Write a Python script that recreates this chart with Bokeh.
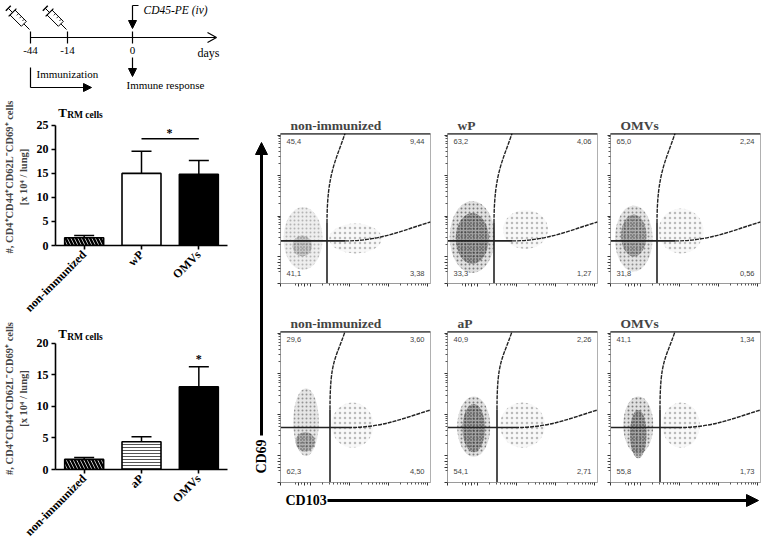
import math
import numpy as np
from bokeh.plotting import figure
from bokeh.layouts import row, column
from bokeh.models import (Range1d, FactorRange, ColumnDataSource, Whisker, TeeHead, Span,
                          FixedTicker, Arrow, NormalHead, Spacer)
from bokeh.core.properties import value
from bokeh.embed import file_html
from bokeh.resources import INLINE

SERIF = "Liberation Serif"

# ------------------------------------------------------------------ data
timeline_days = ["-44", "-14", "0"]
timeline_pos = [30, 67, 132]          # schematic (not to scale) positions

bar1_groups = ["non-immunized", "wP", "OMVs"]
bar1_values = [1.6, 15.0, 14.8]
bar1_errors = [0.5, 4.6, 2.9]

bar2_groups = ["non-immunized", "aP", "OMVs"]
bar2_values = [1.6, 4.4, 13.1]
bar2_errors = [0.3, 0.8, 3.2]

flow_titles_top = ["non-immunized", "wP", "OMVs"]
flow_titles_bottom = ["non-immunized", "aP", "OMVs"]
# quadrant percentages: upper-left, upper-right, lower-left, lower-right
flow_quadrants_top = [["45,4", "9,44", "41,1", "3,38"],
                      ["63,2", "4,06", "33,3", "1,27"],
                      ["65,0", "2,24", "31,8", "0,56"]]
flow_quadrants_bottom = [["29,6", "3,60", "62,3", "4,50"],
                         ["40,9", "2,26", "54,1", "2,71"],
                         ["41,1", "1,34", "55,8", "1,73"]]
# cell clouds (centre x, centre y, width, height) in panel fractions
cloud_main_top = [(0.15, 0.30, 0.26, 0.42), (0.165, 0.31, 0.30, 0.48), (0.155, 0.30, 0.25, 0.44)]
cloud_core_top = [(0.145, 0.25, 0.13, 0.14), (0.165, 0.30, 0.22, 0.34), (0.155, 0.32, 0.17, 0.28)]
cloud_cd103_top = [(0.50, 0.30, 0.35, 0.20), (0.52, 0.36, 0.30, 0.26), (0.47, 0.35, 0.30, 0.30)]
cloud_density_top = [0.55, 1.0, 0.85]
cloud_main_bottom = [(0.17, 0.40, 0.17, 0.45), (0.175, 0.37, 0.22, 0.40), (0.185, 0.38, 0.20, 0.38)]
cloud_core_bottom = [(0.165, 0.27, 0.13, 0.13), (0.175, 0.36, 0.15, 0.32), (0.185, 0.32, 0.11, 0.32)]
cloud_cd103_bottom = [(0.48, 0.38, 0.28, 0.30), (0.50, 0.38, 0.30, 0.30), (0.47, 0.38, 0.25, 0.30)]
cloud_density_bottom = [0.8, 1.0, 1.0]
# gates: vertical x, horizontal y, x where curved gate meets top, y where curved gate meets right edge
gate_top = (0.31, 0.284, 0.43, 0.41)
gate_bottom = (0.33, 0.364, 0.43, 0.48)

COMMON = dict(toolbar_location=None, output_backend="svg", frame_align=False)


def bare(width, height, xr, yr):
    p = figure(width=width, height=height, x_range=xr, y_range=yr, min_border=0,
               x_axis_location=None, y_axis_location=None, **COMMON)
    p.grid.visible = False
    p.outline_line_color = None
    return p


def head():
    return NormalHead(size=8, fill_color="black", line_color="black")


# ------------------------------------------------------------------ timeline
def timeline():
    p = bare(248, 98, Range1d(0, 248), Range1d(98, 0))
    ax_y = 37
    p.line([timeline_pos[0], 215], [ax_y, ax_y], line_color="black", line_width=1.2)
    p.line([207, 216, 207], [ax_y - 5, ax_y, ax_y + 5], line_color="black", line_width=1.2)
    p.segment(x0=timeline_pos, y0=[ax_y - 6] * 3, x1=timeline_pos, y1=[ax_y + 6] * 3,
              line_color="black", line_width=1.2)
    p.text(x=timeline_pos, y=[50] * 3, text=timeline_days, text_font=value(SERIF),
           text_font_size="11px", text_align="center", text_baseline="middle")
    p.text(x=[208], y=[52], text=["days"], text_font=value(SERIF), text_font_size="12px",
           text_align="center", text_baseline="middle")
    # syringes
    d = np.array([1.0, 1.0]) / math.sqrt(2)
    n = np.array([1.0, -1.0]) / math.sqrt(2)
    for tx in timeline_pos[:2]:
        tip = np.array([tx - 1.0, 29.0])
        b1 = tip - 8 * d
        b0 = b1 - 16 * d
        poly = np.array([b0 + 3.5 * n, b1 + 3.5 * n, b1 - 3.5 * n, b0 - 3.5 * n])
        p.patch(poly[:, 0], poly[:, 1], fill_color="white", line_color="black", line_width=1)
        for k in (5, 9, 13):
            g0, g1 = b0 + k * d + 3.5 * n, b0 + k * d + 1 * n
            p.line([g0[0], g1[0]], [g0[1], g1[1]], line_color="black", line_width=0.8)
        p.line([b1[0], tip[0]], [b1[1], tip[1]], line_color="black", line_width=1)
        f0, f1 = b0 + 5.5 * n, b0 - 5.5 * n
        p.line([f0[0], f1[0]], [f0[1], f1[1]], line_color="black", line_width=1.2)
        r1 = b0 - 6 * d
        p.line([b0[0], r1[0]], [b0[1], r1[1]], line_color="black", line_width=1)
        h0, h1 = r1 + 3.5 * n, r1 - 3.5 * n
        p.line([h0[0], h1[0]], [h0[1], h1[1]], line_color="black", line_width=1.4)
    # CD45-PE injection arrow
    x0 = timeline_pos[2]
    p.line([x0 + 6, x0], [5, 5], line_color="black", line_width=1.2)
    p.add_layout(Arrow(x_start=x0, y_start=5, x_end=x0, y_end=28, line_width=1.2, end=head()))
    p.text(x=[x0 + 11], y=[9], text=["CD45-PE (iv)"], text_font=value(SERIF),
           text_font_size="11.5px", text_font_style="italic", text_baseline="middle")
    # immune response
    p.add_layout(Arrow(x_start=x0, y_start=57, x_end=x0, y_end=76, line_width=1.2, end=head()))
    p.text(x=[x0 + 33], y=[84], text=["Immune response"], text_font=value(SERIF),
           text_font_size="11px", text_align="center", text_baseline="middle")
    # immunization
    x1 = timeline_pos[0]
    p.line([x1, x1], [67, 87], line_color="black", line_width=1.2)
    p.add_layout(Arrow(x_start=x1, y_start=87, x_end=91, y_end=87, line_width=1.2, end=head()))
    p.text(x=[x1 + 6], y=[73], text=["Immunization"], text_font=value(SERIF),
           text_font_size="11px", text_baseline="middle")
    return p


# ------------------------------------------------------------------ bar charts
def bar_chart(groups, values, errors, ymax, ytop, yticks, height, btop, bbottom,
              fills, hatches, hscale, hweight, hcolor, title_y, sub_dy):
    src = ColumnDataSource(dict(g=groups, v=values,
                                up=[v + e for v, e in zip(values, errors)],
                                fill=fills, hatch=hatches, hs=hscale, hw=hweight, hc=hcolor))
    p = figure(x_range=FactorRange(*groups, range_padding=0), y_range=Range1d(0, ytop),
               width=248, height=height, min_border_left=55, min_border_right=21,
               min_border_top=btop, min_border_bottom=bbottom, **COMMON)
    p.grid.visible = False
    p.outline_line_color = None
    p.vbar(x="g", top="v", width=0.68, source=src, fill_color="fill", line_color="black",
           line_width=1.6, hatch_pattern="hatch", hatch_scale="hs", hatch_weight="hw",
           hatch_color="hc")
    p.add_layout(Whisker(source=src, base="g", lower="v", upper="up", line_width=1.5,
                         lower_head=None, upper_head=TeeHead(size=20, line_width=1.5)))
    for ax in (p.xaxis[0], p.yaxis[0]):
        ax.axis_line_width = 1.6
        ax.major_tick_line_width = 1.6
        ax.major_tick_in = 0
        ax.major_tick_out = 4
        ax.minor_tick_line_color = None
        ax.major_label_text_font = SERIF
        ax.major_label_text_font_style = "bold"
        ax.major_label_text_font_size = "12px"
        ax.major_label_text_color = "black"
    p.yaxis.ticker = FixedTicker(ticks=yticks)
    p.yaxis.bounds = (0, ymax)
    p.yaxis.major_label_standoff = 3
    p.yaxis.axis_label = "#, CD4\u207aCD44\u207aCD62L\u207bCD69\u207a cells\n[x 10\u2074 / lung]"
    p.yaxis.axis_label_text_font = SERIF
    p.yaxis.axis_label_text_font_style = "bold"
    p.yaxis.axis_label_text_font_size = "10.5px"
    p.yaxis.axis_label_standoff = 5
    p.xaxis.major_label_orientation = math.pi / 4
    p.xaxis.major_label_standoff = 3
    # title T_RM cells
    p.text(x=[groups[0]], y=[title_y], x_offset=-26, text=["T"], text_font=value(SERIF),
           text_font_style="bold", text_font_size="13px", text_baseline="middle")
    p.text(x=[groups[0]], y=[title_y - sub_dy], x_offset=-17, text=["RM cells"], text_font=value(SERIF),
           text_font_style="bold", text_font_size="9.5px", text_baseline="middle")
    return p


bar1 = bar_chart(bar1_groups, bar1_values, bar1_errors, 25, 28.5, [0, 5, 10, 15, 20, 25], 224, 10, 63,
                 ["white", "white", "black"], ["\\", " ", " "], [7, 4, 4], [2.5, 1, 1],
                 ["black", "black", "black"], 27.6, 0.55)
bar1.line(x=["wP", "OMVs"], y=[22.2, 22.2], line_color="black", line_width=1.5)
bar1.text(x=["wP"], y=[23.4], x_offset=28, text=["*"], text_font=value(SERIF),
          text_font_style="bold", text_font_size="12px", text_align="center", text_baseline="middle")

bar2 = bar_chart(bar2_groups, bar2_values, bar2_errors, 20, 22.5, [0, 5, 10, 15, 20], 224, 5, 72,
                 ["white", "white", "black"], ["\\", "-", " "], [7, 3, 4], [2.5, 1, 1],
                 ["black", "#555555", "black"], 21.5, 0.45)
bar2.text(x=["OMVs"], y=[17.5], text=["*"], text_font=value(SERIF),
          text_font_style="bold", text_font_size="12px", text_align="center", text_baseline="middle")


# ------------------------------------------------------------------ flow panels
def decade_minors(starts, span):
    out = []
    for s in starts:
        out += [s + span * math.log10(k) for k in range(2, 10)]
    return out


def flow_panel(title, quads, main, core, cd103, dens, gate, width, bleft, bright, height, btop, bbottom):
    p = figure(width=width, height=height, x_range=Range1d(0, 1), y_range=Range1d(0, 1),
               min_border_left=bleft, min_border_right=bright, min_border_top=btop,
               min_border_bottom=bbottom, **COMMON)
    p.grid.visible = False
    p.outline_line_color = "#b0b0b0"
    p.title.text = title
    p.title.text_font = SERIF
    p.title.text_font_style = "bold"
    p.title.text_font_size = "13.5px"
    p.title.align = "left"
    p.title.offset = 10
    p.title.standoff = 2
    for ax in (p.xaxis[0], p.yaxis[0]):
        ax.major_label_text_font_size = "1px"
        ax.major_label_text_color = None
        ax.major_label_standoff = 0
        ax.axis_line_color = "#9a9a9a"
        ax.major_tick_in = 0
        ax.major_tick_out = 3
        ax.minor_tick_in = 0
        ax.minor_tick_out = 2
        ax.major_tick_line_color = "#333333"
        ax.minor_tick_line_color = "#555555"
    p.xaxis.ticker = FixedTicker(ticks=[0.0, 0.12, 0.16, 0.2, 0.46, 0.72, 0.98],
                                 minor_ticks=[0.1, 0.14, 0.18] + decade_minors([0.2, 0.46, 0.72], 0.26))
    p.yaxis.ticker = FixedTicker(ticks=[0.0, 0.1, 0.14, 0.18, 0.45, 0.72, 0.99],
                                 minor_ticks=[0.08, 0.12, 0.16] + decade_minors([0.18, 0.45, 0.72], 0.27))
    # cells: soft density blobs with stippled texture
    cx, cy, w, h = main
    p.ellipse(x=[cx], y=[cy], width=[w], height=[h], fill_color="#707070", fill_alpha=0.22 * dens,
              line_color=None, hatch_pattern="dot", hatch_scale=4, hatch_weight=0.4,
              hatch_color="black", hatch_alpha=0.45 * dens)
    cx, cy, w, h = core
    p.ellipse(x=[cx], y=[cy], width=[w], height=[h], fill_color="#303030", fill_alpha=0.35 * dens,
              line_color=None, hatch_pattern="dot", hatch_scale=3, hatch_weight=0.4,
              hatch_color="black", hatch_alpha=0.65 * dens)
    cx, cy, w, h = cd103
    p.ellipse(x=[cx], y=[cy], width=[w], height=[h], fill_color="#a0a0a0", fill_alpha=0.08,
              line_color=None, hatch_pattern="dot", hatch_scale=5, hatch_weight=0.3,
              hatch_color="black", hatch_alpha=0.25)
    # gates
    gx, gy, tx, ry = gate
    p.segment(x0=[0, gx, gx, gx], y0=[gy, 0, gy, gy], x1=[gx, gx, gx, gx + 0.12], y1=[gy, gy, gy + 0.12, gy],
              line_color="#222222", line_width=1.6)
    p.bezier(x0=[gx, gx + 0.12], y0=[gy + 0.12, gy], x1=[tx, 1.0], y1=[1.0, ry],
             cx0=[gx, gx + 0.35], cy0=[gy + 0.45, gy], cx1=[tx - 0.06, 0.8], cy1=[0.82, ry - 0.06],
             line_color="#222222", line_width=1.4, line_dash="4 1")
    p.add_layout(Span(location=1.0, dimension="width", line_color="black", line_width=2))
    # quadrant values
    p.text(x=[0.04, 0.04], y=[0.95, 0.07], text=[quads[0], quads[2]], text_font=value("Liberation Sans"),
           text_font_size="7.5px", text_color="#444444", text_baseline="middle")
    p.text(x=[0.96, 0.96], y=[0.95, 0.07], text=[quads[1], quads[3]], text_font=value("Liberation Sans"),
           text_font_size="7.5px", text_color="#444444", text_baseline="middle", text_align="right")
    return p


col_geom = [(167, 8, 9), (163, 8, 5), (161, 8, 3)]   # figure width, left border, right border
top_panels = [flow_panel(flow_titles_top[i], flow_quadrants_top[i], cloud_main_top[i], cloud_core_top[i],
                         cloud_cd103_top[i], cloud_density_top[i], gate_top, *col_geom[i], 190, 23, 17)
              for i in range(3)]
bottom_panels = [flow_panel(flow_titles_bottom[i], flow_quadrants_bottom[i], cloud_main_bottom[i],
                            cloud_core_bottom[i], cloud_cd103_bottom[i], cloud_density_bottom[i],
                            gate_bottom, *col_geom[i], 190, 31, 8)
                 for i in range(3)]

# axis arrows
cd69 = bare(24, 380, Range1d(0, 24), Range1d(0, 380))
cd69.add_layout(Arrow(x_start=13, y_start=55, x_end=13, y_end=348, line_width=3,
                      end=NormalHead(size=12, fill_color="black", line_color="black")))
cd69.text(x=[13], y=[34], text=["CD69"], angle=math.pi / 2, text_font=value(SERIF),
          text_font_style="bold", text_font_size="14px", text_align="center", text_baseline="middle")

cd103 = bare(515, 56, Range1d(0, 515), Range1d(0, 56))
cd103.add_layout(Arrow(x_start=79, y_start=46, x_end=510, y_end=46, line_width=3,
                       end=NormalHead(size=12, fill_color="black", line_color="black")))
cd103.text(x=[37], y=[46], text=["CD103"], text_font=value(SERIF),
           text_font_style="bold", text_font_size="14px", text_baseline="middle")

left = column(timeline(), bar1, bar2)
right = column(Spacer(width=515, height=110),
               row(cd69, column(row(*top_panels), row(*bottom_panels))),
               cd103)
layout = row(left, right)

open("out.html", "w").write(file_html(layout, INLINE))
